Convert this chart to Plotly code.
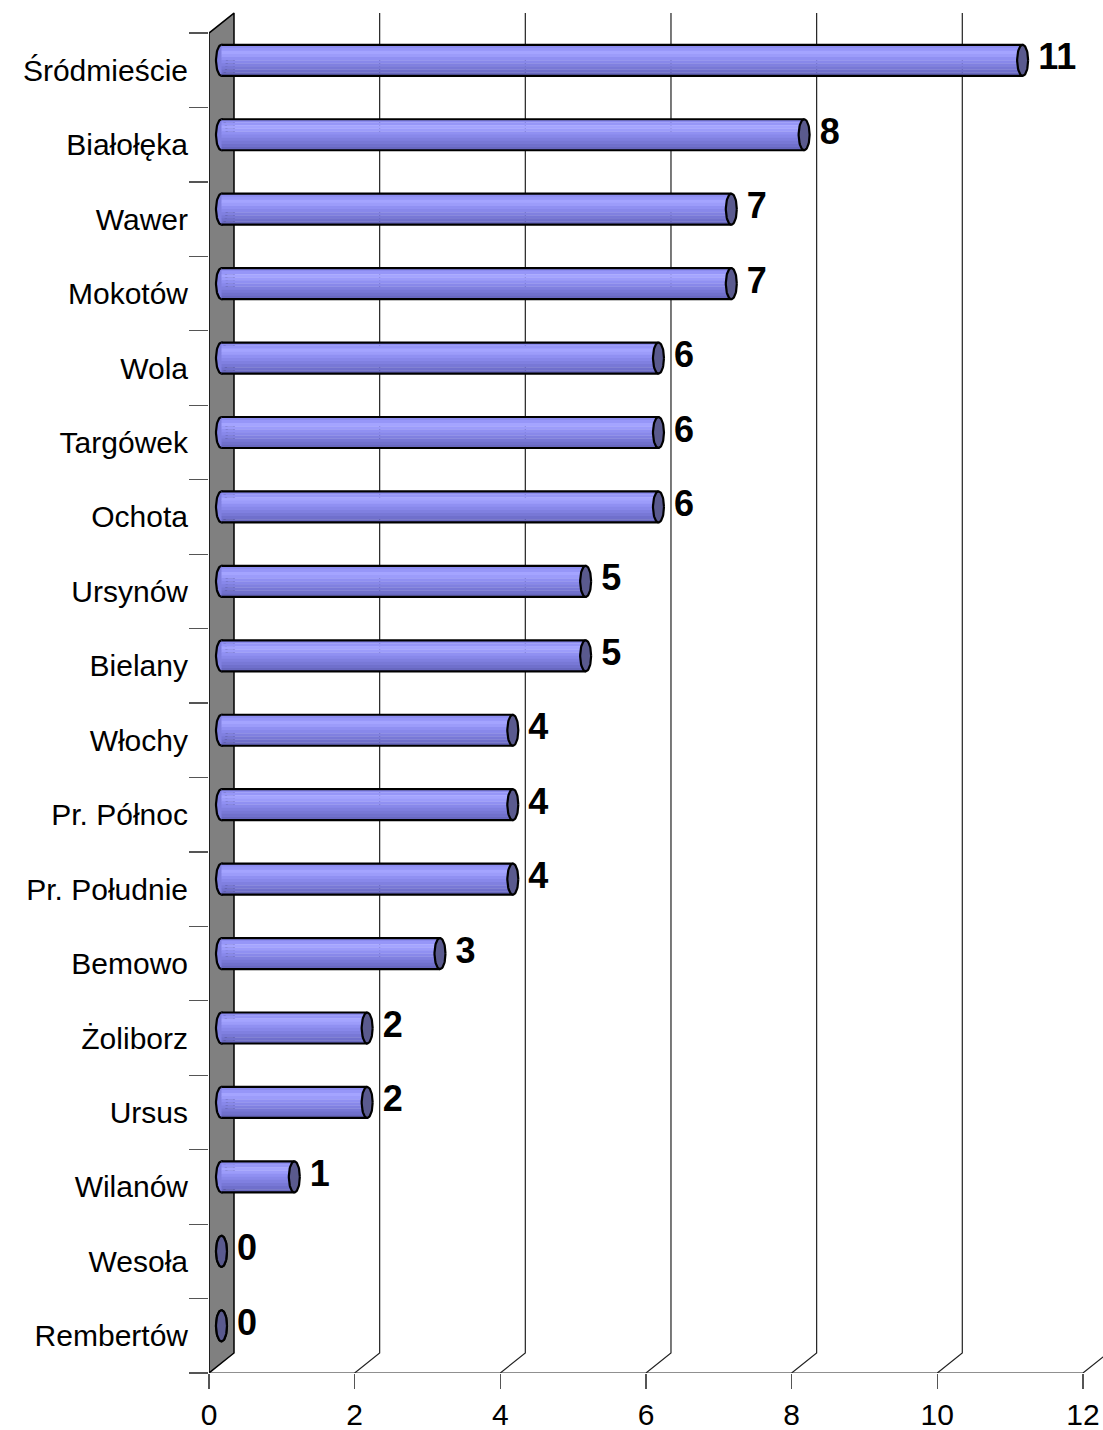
import numpy as np
import plotly.graph_objects as go

# ---------------- data ----------------
categories = ["Śródmieście", "Białołęka", "Wawer", "Mokotów", "Wola", "Targówek",
              "Ochota", "Ursynów", "Bielany", "Włochy", "Pr. Północ", "Pr. Południe",
              "Bemowo", "Żoliborz", "Ursus", "Wilanów", "Wesoła", "Rembertów"]
values = [11, 8, 7, 7, 6, 6, 6, 5, 5, 4, 4, 4, 3, 2, 2, 1, 0, 0]
x_ticks = [0, 2, 4, 6, 8, 10, 12]

# ---------------- geometry (3D look) ----------------
W, H = 1103, 1430
ML, MR, MT, MB = 209, 0, 10, 57
PX_X = 72.83          # px per value unit
PX_Y = 74.44          # px per category
XMAX = (W - ML - MR) / PX_X
YMIN = -0.5
YMAX = YMIN + (H - MT - MB) / PX_Y
DX = 25 / PX_X        # depth offset in x units
DY = 20 / PX_Y        # depth offset in y units
RX = 5.5 / PX_X       # cap ellipse radii
RY = 15.5 / PX_Y

n = len(categories)
ypos = [n - 1 - i for i in range(n)]
FONT = "Liberation Sans, Arial, sans-serif"

fig = go.Figure()

# side wall
top = n - 0.5
fig.add_trace(go.Scatter(
    x=[0, DX, DX, 0, 0], y=[YMIN, YMIN + DY, top + DY, top, YMIN],
    mode="lines", fill="toself", fillcolor="#808080",
    line=dict(color="black", width=1.5), hoverinfo="skip"))

# back gridlines + diagonal floor lines
gx, gy = [], []
for t in x_ticks[1:]:
    gx += [t, t + DX, t + DX, None]
    gy += [YMIN, YMIN + DY, top + DY, None]
fig.add_trace(go.Scatter(x=gx, y=gy, mode="lines",
                         line=dict(color="#222222", width=1.2), hoverinfo="skip"))
# front baseline
fig.add_trace(go.Scatter(x=[x_ticks[0], x_ticks[-1]], y=[YMIN, YMIN], mode="lines",
                         line=dict(color="#222222", width=1.2), hoverinfo="skip"))

theta = np.linspace(0, 2 * np.pi, 60)


def ellipse(cx, cy):
    return list(cx + RX * np.cos(theta)) + [None], list(cy + RY * np.sin(theta)) + [None]


# left caps
lx, ly = [], []
for v, k in zip(values, ypos):
    ex, ey = ellipse(DX / 2, k + DY / 2)
    lx += ex
    ly += ey
fig.add_trace(go.Scatter(x=lx, y=ly, mode="lines", fill="toself", fillcolor="#8080e0",
                         line=dict(color="black", width=2.2), hoverinfo="skip"))

# body stripes (cylinder shading)
stripe_colors = ["#8c8cf0", "#9696f8", "#a4a4ff", "#9c9cfa", "#9090f2", "#8888ea",
                 "#8080e0", "#7878d6", "#7070cc", "#6868c0"]
ns = len(stripe_colors)
for s, col in enumerate(stripe_colors):
    sx, sy = [], []
    for v, k in zip(values, ypos):
        if v <= 0:
            continue
        cy = k + DY / 2
        y1 = cy + RY - 2 * RY * s / ns
        y0 = cy + RY - 2 * RY * (s + 1) / ns
        x0, x1 = DX / 2, v + DX / 2
        sx += [x0, x1, x1, x0, x0, None]
        sy += [y0 - 0.002, y0 - 0.002, y1 + 0.002, y1 + 0.002, y0 - 0.002, None]
    fig.add_trace(go.Scatter(x=sx, y=sy, mode="lines", fill="toself", fillcolor=col,
                             line=dict(width=0), hoverinfo="skip"))

# body outlines
ox, oy = [], []
for v, k in zip(values, ypos):
    if v <= 0:
        continue
    cy = k + DY / 2
    ox += [DX / 2, v + DX / 2, None, DX / 2, v + DX / 2, None]
    oy += [cy + RY, cy + RY, None, cy - RY, cy - RY, None]
fig.add_trace(go.Scatter(x=ox, y=oy, mode="lines",
                         line=dict(color="black", width=2.2), hoverinfo="skip"))

# right caps
rx_, ry_ = [], []
for v, k in zip(values, ypos):
    ex, ey = ellipse(v + DX / 2, k + DY / 2)
    rx_ += ex
    ry_ += ey
fig.add_trace(go.Scatter(x=rx_, y=ry_, mode="lines", fill="toself", fillcolor="#5a5a8e",
                         line=dict(color="black", width=2.2), hoverinfo="skip"))

# value labels
fig.add_trace(go.Scatter(
    x=[v + DX / 2 + RX + 10 / PX_X for v in values],
    y=[k + DY / 2 for k in ypos],
    mode="text", text=[str(v) for v in values], textposition="middle right",
    textfont=dict(family=FONT, size=36, color="black", weight="bold"),
    cliponaxis=False, hoverinfo="skip"))

fig.update_layout(
    width=W, height=H, margin=dict(l=ML, r=MR, t=MT, b=MB, autoexpand=False),
    plot_bgcolor="white", paper_bgcolor="white",
    showlegend=False, hovermode=False,
    font=dict(family=FONT, size=30, color="black"),
    xaxis=dict(range=[0, XMAX], tickmode="array", tickvals=x_ticks,
               ticktext=[str(t) for t in x_ticks], ticks="outside", ticklen=15,
               tickcolor="#555555", tickwidth=1.2, showgrid=False, zeroline=False,
               showline=False, tickfont=dict(size=30), automargin=False),
    yaxis=dict(range=[YMIN, YMAX], tickmode="array", tickvals=ypos,
               ticktext=categories, ticks="outside", ticklen=14,
               tickcolor="rgba(0,0,0,0)", showgrid=False, zeroline=False,
               showline=False, tickfont=dict(size=30), automargin=False,
               minor=dict(tickmode="array", tickvals=[k - 0.5 for k in range(n + 1)],
                          ticks="outside", ticklen=19, tickcolor="#555555",
                          tickwidth=1.2, showgrid=False)),
)

fig.write_html("out.html", config={"displayModeBar": False, "staticPlot": True},
               post_script="document.body.style.margin='0';document.body.style.overflow='hidden';")
